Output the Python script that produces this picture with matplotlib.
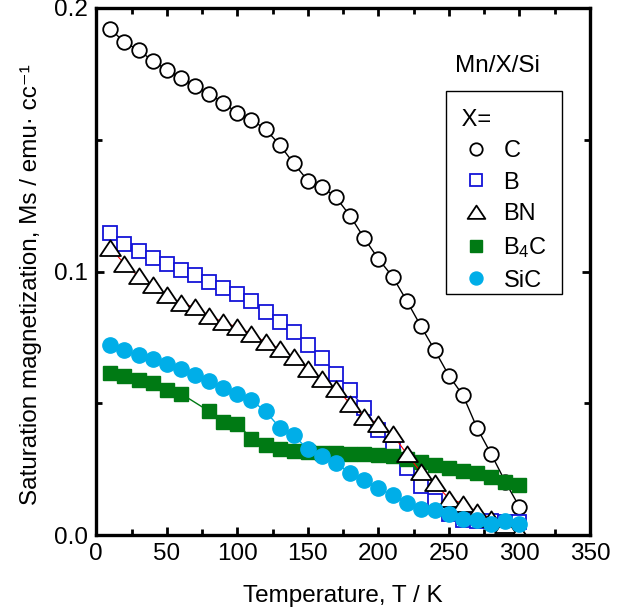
import numpy as np
import matplotlib
matplotlib.use("Agg")
import matplotlib.pyplot as plt
from matplotlib.path import Path
from matplotlib.patches import Rectangle
from matplotlib.ticker import MultipleLocator, FormatStrFormatter

plt.rcParams['font.family'] = ['Liberation Sans', 'DejaVu Sans']
plt.rcParams['mathtext.fontset'] = 'custom'
plt.rcParams['mathtext.rm'] = 'Liberation Sans'
plt.rcParams['mathtext.it'] = 'Liberation Sans:italic'

# Temperature grid (K)
T = [10, 20, 30, 40, 50, 60, 70, 80, 90, 100, 110, 120, 130, 140, 150,
     160, 170, 180, 190, 200, 210, 220, 230, 240, 250, 260, 270, 280, 290, 300]
T_b4c = [10, 20, 30, 40, 50, 60, 80, 90, 100, 110, 120, 130, 140, 150,
         160, 170, 180, 190, 200, 210, 220, 230, 240, 250, 260, 270, 280, 290, 300]

# Saturation magnetization (emu/cc) for Mn/X/Si
ms_c = [0.192, 0.187, 0.184, 0.180, 0.1765, 0.1736, 0.1703, 0.1674, 0.1641, 0.1601,
        0.1576, 0.1540, 0.1481, 0.1410, 0.1345, 0.1322, 0.1281, 0.1211, 0.1126, 0.1048,
        0.0981, 0.0890, 0.0794, 0.0701, 0.0605, 0.0530, 0.0406, 0.0307, 0.0202, 0.0107]
ms_b = [0.1145, 0.1105, 0.1077, 0.1050, 0.1029, 0.1006, 0.0987, 0.0960, 0.0938, 0.0915,
        0.0888, 0.0846, 0.0808, 0.0770, 0.0722, 0.0673, 0.0612, 0.0549, 0.0482, 0.0400,
        0.0328, 0.0253, 0.0186, 0.0130, 0.0082, 0.0059, 0.0054, 0.0052, 0.0050, 0.0048]
ms_bn = [0.1090, 0.1029, 0.0982, 0.0950, 0.0912, 0.0880, 0.0865, 0.0833, 0.0808, 0.0789,
         0.0764, 0.0732, 0.0707, 0.0675, 0.0631, 0.0594, 0.0556, 0.0499, 0.0448, 0.0423,
         0.0383, 0.0309, 0.0240, 0.0196, 0.0139, 0.0120, 0.0088, 0.0063, 0.0040, 0.0008]
ms_b4c = [0.0616, 0.0603, 0.0590, 0.0577, 0.0552, 0.0537, 0.0470, 0.0429, 0.0423, 0.0366,
          0.0341, 0.0325, 0.0319, 0.0317, 0.0313, 0.0311, 0.0309, 0.0306, 0.0303, 0.0301,
          0.0290, 0.0278, 0.0265, 0.0256, 0.0244, 0.0234, 0.0219, 0.0202, 0.0189]
ms_sic = [0.0722, 0.0703, 0.0682, 0.0667, 0.0648, 0.0631, 0.0606, 0.0584, 0.0559, 0.0537,
          0.0511, 0.0470, 0.0408, 0.0379, 0.0325, 0.0299, 0.0272, 0.0236, 0.0208, 0.0177,
          0.0152, 0.0122, 0.0101, 0.0095, 0.0082, 0.0063, 0.0059, 0.0044, 0.0054, 0.0042]

green = '#007a14'
cyan = '#00aee8'
blue = '#1414d8'
# wide, flat triangle used for BN
tri = Path([(-1, -0.72), (1, -0.72), (0, 0.78), (-1, -0.72)], closed=True)

fig = plt.figure(figsize=(6.25, 6.13), dpi=100)
ax = fig.add_axes([0.154, 0.127, 0.790, 0.860])

ax.plot(T, ms_c, '-', marker='o', color='black', lw=1, ms=10.5, mfc='white', mec='black', mew=1.3, label='C')
ax.plot(T, ms_b, '-', marker='s', color=blue, lw=1, ms=10.3, mfc='white', mec=blue, mew=1.3, label='B')
ax.plot(T_b4c, ms_b4c, '-', marker='s', color=green, lw=1, ms=10.5, mfc=green, mec=green, label='B$_4$C')
ax.plot(T, ms_bn, '-', marker=tri, color='red', lw=0.8, ms=15, mfc='white', mec='black', mew=1.3, label='BN')
ax.plot(T, ms_sic, '-', marker='o', color=cyan, lw=1, ms=11, mfc=cyan, mec=cyan, label='SiC')

ax.set_xlim(0, 350)
ax.set_ylim(0, 0.2)
ax.xaxis.set_major_locator(MultipleLocator(50))
ax.xaxis.set_minor_locator(MultipleLocator(25))
ax.yaxis.set_major_locator(MultipleLocator(0.1))
ax.yaxis.set_minor_locator(MultipleLocator(0.05))
ax.yaxis.set_major_formatter(FormatStrFormatter('%.1f'))

ax.tick_params(which='both', direction='in', top=True, right=True, width=2,
               labelsize=17.5, pad=6)
ax.tick_params(which='major', length=6)
ax.tick_params(which='minor', length=4)
for s in ax.spines.values():
    s.set_linewidth(2.4)

ax.set_xlabel('Temperature, T / K', fontsize=17.5, labelpad=14)
ax.set_ylabel('Saturation magnetization, Ms / emu\u00b7 cc\u207b\u00b9', fontsize=17.5)
ax.yaxis.set_label_coords(-0.110, 0.475)

# legend: C, B, BN, B4C, SiC under an "X=" heading, inside a plain box
h, l = ax.get_legend_handles_labels()
order = [0, 1, 3, 2, 4]
leg = ax.legend([h[i] for i in order], [l[i] for i in order],
                title=' X=', alignment='left', loc='upper left',
                bbox_to_anchor=(0.710, 0.824), frameon=False,
                fontsize=17, title_fontsize=17,
                markerscale=0.85, handlelength=1.75, handletextpad=0.3,
                labelspacing=0.41, borderpad=0.35, borderaxespad=0)
leg._legend_box.sep = 6.4
for line in leg.get_lines():
    line.set_linestyle('none')
ax.add_patch(Rectangle((0.708, 0.457), 0.235, 0.3855, transform=ax.transAxes,
                       fill=False, edgecolor='black', lw=1.0, zorder=5))

ax.text(0.8116, 0.89, 'Mn/X/Si', transform=ax.transAxes, ha='center', va='center', fontsize=17.5)

fig.savefig('out.png', dpi=100)
